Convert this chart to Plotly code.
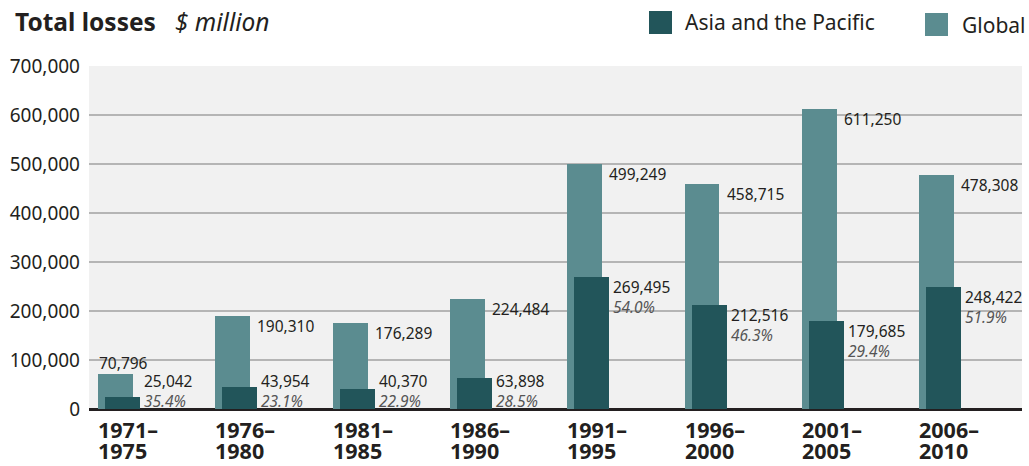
import plotly.graph_objects as go

# ---- data ----
periods = ["1971–1975", "1976–1980", "1981–1985", "1986–1990",
           "1991–1995", "1996–2000", "2001–2005", "2006–2010"]
global_losses = [70796, 190310, 176289, 224484, 499249, 458715, 611250, 478308]
asia_losses = [25042, 43954, 40370, 63898, 269495, 212516, 179685, 248422]
y_ticks = [0, 100000, 200000, 300000, 400000, 500000, 600000, 700000]

# ---- style / layout constants ----
W, H = 1029, 466
L, R, T, B = 89, 1022, 66, 409
C_GLOBAL = "#5b8c90"
C_ASIA = "#22555a"
C_TEXT = "#231f20"
C_PCT = "#555555"
BAR_W = 0.298
ASIA_OFF = 0.06
NUM_FONT = "Noto Sans"
CAT_FONT = "Noto Sans"


def px_x(px):
    return (px - L) / (R - L)


def px_y(py):
    return (B - py) / (B - T)


xs = list(range(len(periods)))

fig = go.Figure()
fig.add_trace(go.Bar(
    x=xs, y=global_losses, name="Global", marker_color=C_GLOBAL,
    width=BAR_W, offset=-BAR_W / 2, marker_line_width=0, showlegend=False,
    hoverinfo="skip",
))
fig.add_trace(go.Bar(
    x=xs, y=asia_losses, name="Asia and the Pacific", marker_color=C_ASIA,
    width=BAR_W, offset=-BAR_W / 2 + ASIA_OFF, marker_line_width=0, showlegend=False,
    hoverinfo="skip",
))

ann = []
for i, (g, a) in enumerate(zip(global_losses, asia_losses)):
    right_edge = i - BAR_W / 2 + ASIA_OFF + BAR_W
    # global value label
    if g - a < 80000:
        ann.append(dict(x=i - BAR_W / 2, y=g, xref="x", yref="y", text=f"{g:,}",
                        xanchor="left", yanchor="bottom", showarrow=False, xshift=-1,
                        yshift=-2, font=dict(family=NUM_FONT, size=15.5, color=C_TEXT)))
    else:
        ann.append(dict(x=right_edge, y=g, xref="x", yref="y", text=f"{g:,}",
                        xanchor="left", yanchor="middle", showarrow=False, xshift=-2,
                        yshift=-10, font=dict(family=NUM_FONT, size=15.5, color=C_TEXT)))
    # asia value + share labels (one two-line text)
    ya = max(a, 77800)
    ann.append(dict(x=right_edge, y=ya, xref="x", yref="y",
                    text=(f"{a:,}<br><i><span style='color:{C_PCT}'>"
                          f"{a / g * 100:.1f}%</span></i>"),
                    align="left", xanchor="left", yanchor="middle", showarrow=False,
                    xshift=2, yshift=-20,
                    font=dict(family=NUM_FONT, size=15.5, color=C_TEXT)))
    # category label (two lines, left aligned)
    first, second = periods[i].split("–")
    ann.append(dict(x=i - BAR_W / 2, y=px_y(446), xref="x", yref="paper",
                    text=f"<b>{first}–</b>", align="left",
                    xanchor="left", yanchor="bottom", showarrow=False, xshift=-2,
                    font=dict(family=CAT_FONT, size=21.5, color=C_TEXT)))
    ann.append(dict(x=i - BAR_W / 2, y=px_y(467), xref="x", yref="paper",
                    text=f"<b>{second}</b>", align="left",
                    xanchor="left", yanchor="bottom", showarrow=False, xshift=-2,
                    font=dict(family=CAT_FONT, size=21.5, color=C_TEXT)))

# legend (manual)
ann.append(dict(x=px_x(683), y=px_y(22), xref="paper", yref="paper",
                text="Asia and the Pacific", xanchor="left", yanchor="middle",
                showarrow=False, font=dict(family=NUM_FONT, size=21, color=C_TEXT)))
ann.append(dict(x=px_x(960), y=px_y(25), xref="paper", yref="paper",
                text="Global", xanchor="left", yanchor="middle",
                showarrow=False, font=dict(family=NUM_FONT, size=21, color=C_TEXT)))
shapes = [
    dict(type="rect", xref="paper", yref="paper", x0=px_x(649), x1=px_x(672),
         y0=px_y(34), y1=px_y(11), fillcolor=C_ASIA, line_width=0),
    dict(type="rect", xref="paper", yref="paper", x0=px_x(925), x1=px_x(948),
         y0=px_y(36), y1=px_y(13), fillcolor=C_GLOBAL, line_width=0),
]

fig.update_layout(
    width=W, height=H,
    margin=dict(l=L, r=W - R, t=T, b=H - B, pad=0),
    paper_bgcolor="white", plot_bgcolor="#f1f1f1",
    barmode="overlay", bargap=0,
    title=dict(text="<b>Total losses</b>&nbsp;&nbsp; <i>$ million</i>",
               x=15 / W, xanchor="left", xref="container",
               y=1 - 22 / H, yanchor="middle", yref="container",
               font=dict(family=NUM_FONT, size=24.5, color=C_TEXT)),
    xaxis=dict(range=[(L - 115.5) / 117.3, (R - 115.5) / 117.3],
               showticklabels=False, showgrid=False, zeroline=False, ticks=""),
    yaxis=dict(range=[0, 700000], tickvals=y_ticks,
               ticktext=[f"{v:,}" for v in y_ticks],
               tickfont=dict(family=NUM_FONT, size=19, color=C_TEXT),
               ticks="", ticklabelstandoff=8,
               showgrid=True, gridcolor="#b5b5b5", gridwidth=2,
               zeroline=True, zerolinecolor=C_TEXT, zerolinewidth=2.5),
    annotations=ann, shapes=shapes, showlegend=False,
)

fig.write_html("out.html",
               config={"displayModeBar": False},
               post_script="document.body.style.margin='0';document.body.style.overflow='hidden';")
